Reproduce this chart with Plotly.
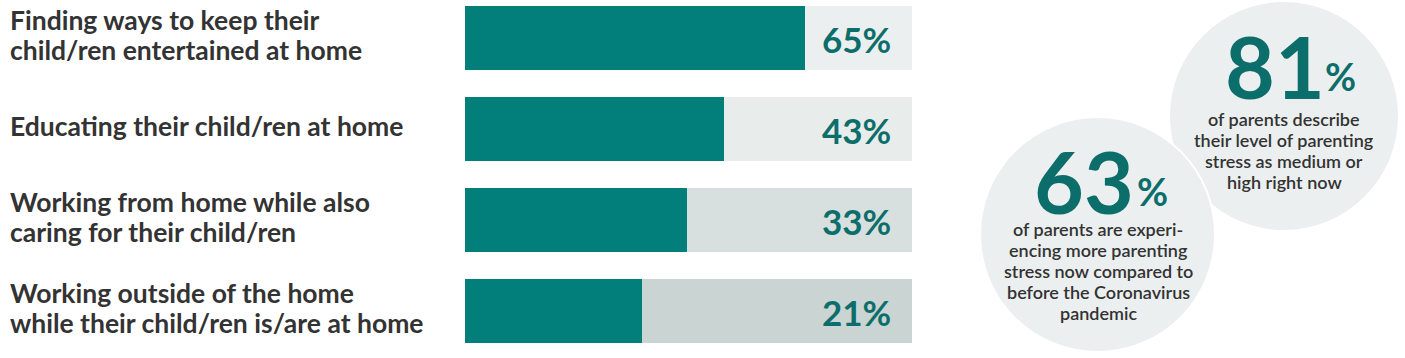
import plotly.graph_objects as go

# ---- data ----
categories = [
    "Finding ways to keep their<br>child/ren entertained at home",
    "Educating their child/ren at home",
    "Working from home while also<br>caring for their child/ren",
    "Working outside of the home<br>while their child/ren is/are at home",
]
values = [65, 43, 33, 21]
axis_min = -27   # bars start at the left edge of the (non-zero) axis
scale_max = 94   # end of the light track
track_colors = ["#ECEFEF", "#E8ECEB", "#D8E0DF", "#CAD4D2"]

stat_values = [81, 63]
stat_captions = [
    ["of parents describe", "their level of parenting", "stress as medium or", "high right now"],
    ["of parents are experi-", "encing more parenting", "stress now compared to",
     "before the Coronavirus", "pandemic"],
]

W, H = 1405, 358
TEAL = "#027F7B"
DARK_TEAL = "#0C6E6B"
TEXT = "#333333"
FONT = "Lato"

def px(x):
    return x / W

def py(y):
    return 1 - y / H

fig = go.Figure()
fig.add_trace(go.Bar(
    y=categories, x=[scale_max - axis_min] * len(categories), base=axis_min,
    orientation="h",
    marker=dict(color=track_colors, line=dict(width=0)), width=0.70,
    hoverinfo="skip", showlegend=False,
))
fig.add_trace(go.Bar(
    y=categories, x=[v - axis_min for v in values], base=axis_min,
    orientation="h", customdata=values, hovertemplate="%{customdata}%<extra></extra>",
    marker=dict(color=TEAL, line=dict(width=0)), width=0.70,
    showlegend=False,
))

annotations = []
label_line_step = 30
for c, v in zip(categories, values):
    annotations.append(dict(
        x=scale_max, y=c, xref="x", yref="y", text=f"<b>{v}%</b>",
        xanchor="right", yanchor="middle", xshift=-19, yshift=-1, showarrow=False,
        font=dict(family=FONT, size=35, color=DARK_TEAL),
    ))
    lines = c.split("<br>")
    n = len(lines)
    for i, line in enumerate(lines):
        off = (i - (n - 1) / 2) * label_line_step
        annotations.append(dict(
            x=px(9), y=c, xref="paper", yref="y", text=f"<b>{line}</b>",
            xanchor="left", yanchor="middle", align="left", showarrow=False,
            yshift=3 - off, height=28, borderpad=0,
            font=dict(family=FONT, size=26.5, color=TEXT),
        ))

# stat circles
shapes = [
    dict(type="circle", xref="paper", yref="paper",
         x0=px(1170), x1=px(1398), y0=py(230), y1=py(2),
         fillcolor="#ECEFEF", line=dict(width=0), layer="below"),
    dict(type="circle", xref="paper", yref="paper",
         x0=px(980), x1=px(1215), y0=py(352), y1=py(117),
         fillcolor="#ECEFEF", line=dict(width=2, color="white"), layer="below"),
]

stat_pos = [
    dict(num=(1275, 65), pct=(1340, 76), cap_x=1284, cap_y0=118),
    dict(num=(1084, 180), pct=(1152, 191), cap_x=1098, cap_y0=228),
]
line_step = 21.2
for v, cap, p in zip(stat_values, stat_captions, stat_pos):
    annotations.append(dict(
        x=px(p["num"][0]), y=py(p["num"][1]), xref="paper", yref="paper",
        text=f"<b>{v}</b>", showarrow=False, xanchor="center", yanchor="middle",
        height=72, borderpad=0,
        font=dict(family=FONT, size=86, color=DARK_TEAL),
    ))
    annotations.append(dict(
        x=px(p["pct"][0]), y=py(p["pct"][1]), xref="paper", yref="paper",
        text="<b>%</b>", showarrow=False, xanchor="center", yanchor="middle",
        font=dict(family=FONT, size=38, color=DARK_TEAL),
    ))
    for i, line in enumerate(cap):
        annotations.append(dict(
            x=px(p["cap_x"]), y=py(p["cap_y0"] + i * line_step), xref="paper", yref="paper",
            text=line, showarrow=False, xanchor="center", yanchor="middle",
            height=21, borderpad=0,
            font=dict(family=FONT, size=18, color=TEXT, weight=600),
        ))

# y mapping: bar centres at 38px + 91.1px per step
step = 91.1
r0 = -38 / step
r1 = r0 + H / step

fig.update_layout(
    width=W, height=H, margin=dict(l=0, r=0, t=0, b=0),
    paper_bgcolor="white", plot_bgcolor="rgba(0,0,0,0)",
    barmode="overlay", bargap=0,
    xaxis=dict(domain=[px(465), px(912)], range=[axis_min, scale_max],
               visible=False, fixedrange=True),
    yaxis=dict(type="category", categoryorder="array", categoryarray=categories,
               range=[r1, r0], visible=False, domain=[0, 1], fixedrange=True),
    shapes=shapes, annotations=annotations,
    font=dict(family=FONT),
)

fig.write_html("out.html", config={"displayModeBar": False})
